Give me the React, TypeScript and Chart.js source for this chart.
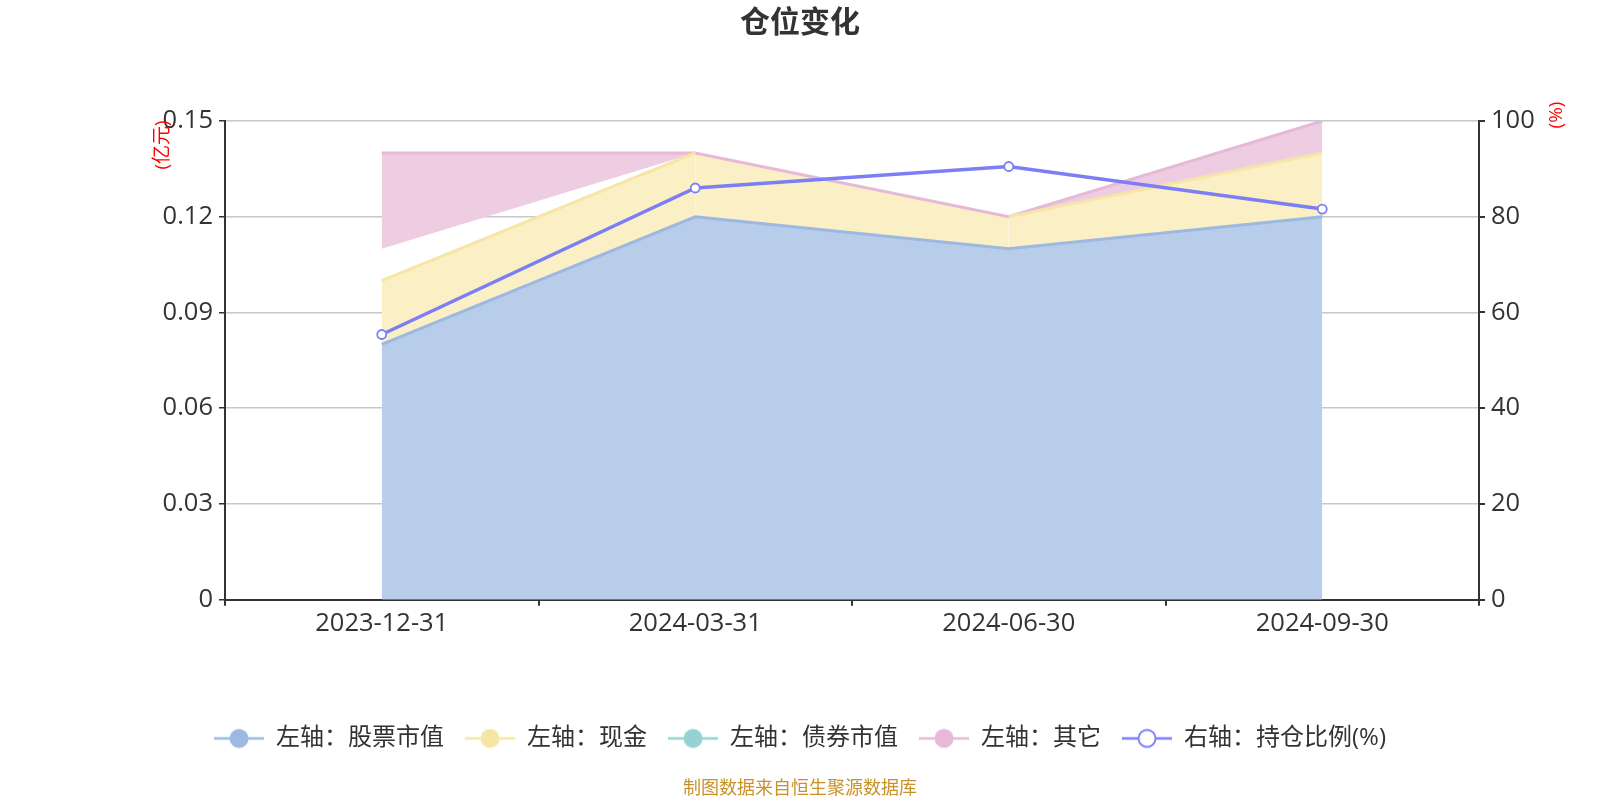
import React, { useEffect, useRef } from "react";
import { Chart, registerables } from "chart.js";

Chart.register(...registerables);

const categories = ["2023-12-31", "2024-03-31", "2024-06-30", "2024-09-30"];
const stockValues = [0.08, 0.12, 0.11, 0.12];
const cashValues = [0.02, 0.02, 0.01, 0.02];
const bondValues = [0.01, 0, 0, 0];
const otherValues = [0.03, 0, 0, 0.01];
const positionPct = [55.4, 86.0, 90.5, 81.6];
const leftTickLabels = ["0", "0.03", "0.06", "0.09", "0.12", "0.15"];
const seriesNames = ["左轴：股票市值", "左轴：现金", "左轴：债券市值", "左轴：其它", "右轴：持仓比例(%)"];
const titleText = "仓位变化";
const footerText = "制图数据来自恒生聚源数据库";
const leftUnit = "(亿元)";
const rightUnit = "(%)";

const FONT = '"Open Sans", "Noto Sans CJK SC", sans-serif';
const legendColors = ["#9db8e1", "#f6e6a6", "#95d3d3", "#e6b9d9", "#7b7ef5"];

function makeIcon(color: string, hollow: boolean): HTMLCanvasElement {
  const c = document.createElement("canvas");
  c.width = 50;
  c.height = 22;
  const ctx = c.getContext("2d")!;
  ctx.strokeStyle = color;
  ctx.lineWidth = 2.5;
  ctx.beginPath();
  ctx.moveTo(0, 11);
  ctx.lineTo(50, 11);
  ctx.stroke();
  ctx.beginPath();
  ctx.arc(25, 11, hollow ? 8.5 : 9.5, 0, Math.PI * 2);
  if (hollow) {
    ctx.fillStyle = "#fff";
    ctx.fill();
    ctx.lineWidth = 1.8;
    ctx.stroke();
  } else {
    ctx.fillStyle = color;
    ctx.fill();
  }
  return c;
}

const unitPlugin = {
  id: "unitLabels",
  afterDraw(chart: any) {
    const { ctx, chartArea } = chart;
    ctx.save();
    ctx.fillStyle = "#ff0000";
    ctx.font = `19px ${FONT}`;
    ctx.textAlign = "center";
    ctx.textBaseline = "middle";
    ctx.translate(chartArea.left - 62, chartArea.top + 24);
    ctx.rotate(-Math.PI / 2);
    ctx.fillText(leftUnit, 0, 0);
    ctx.restore();
    ctx.save();
    ctx.fillStyle = "#ff0000";
    ctx.font = `19px ${FONT}`;
    ctx.textAlign = "center";
    ctx.textBaseline = "middle";
    ctx.translate(chartArea.right + 78, chartArea.top - 6);
    ctx.rotate(-Math.PI / 2);
    ctx.fillText(rightUnit, 0, 0);
    ctx.restore();
  },
};

export default function App() {
  const ref = useRef<HTMLCanvasElement | null>(null);
  useEffect(() => {
    document.body.style.margin = "0";
    const icons = legendColors.map((c, i) => makeIcon(c, i === 4));
    const chart = new Chart(ref.current!, {
      type: "line",
      data: {
        labels: categories,
        datasets: [
          {
            label: seriesNames[0],
            data: stockValues,
            yAxisID: "y",
            borderColor: "#9db8e1",
            backgroundColor: "#b8cdea",
            borderWidth: 3,
            fill: "origin",
            pointRadius: 0,
            tension: 0,
          },
          {
            label: seriesNames[1],
            data: cashValues,
            yAxisID: "y",
            borderColor: "#f6e6a6",
            backgroundColor: "#faefc5",
            borderWidth: 3,
            fill: "-1",
            pointRadius: 0,
            tension: 0,
            segment: {
              borderColor: (c: any) =>
                otherValues[c.p0DataIndex] === 0 && otherValues[c.p1DataIndex] === 0 &&
                bondValues[c.p0DataIndex] === 0 && bondValues[c.p1DataIndex] === 0
                  ? "rgba(0,0,0,0)"
                  : undefined,
            },
          },
          {
            label: seriesNames[2],
            data: bondValues,
            yAxisID: "y",
            borderColor: "rgba(0,0,0,0)",
            backgroundColor: "rgba(0,0,0,0)",
            borderWidth: 0,
            fill: false,
            pointRadius: 0,
            tension: 0,
          },
          {
            label: seriesNames[3],
            data: otherValues,
            yAxisID: "y",
            borderColor: "#e6b9d9",
            backgroundColor: "#eecde3",
            borderWidth: 3,
            fill: "-1",
            pointRadius: 0,
            tension: 0,
          },
          {
            label: seriesNames[4],
            data: positionPct,
            yAxisID: "y1",
            stack: "pct",
            borderColor: "#7b7ef5",
            backgroundColor: "#ffffff",
            borderWidth: 3.5,
            fill: false,
            pointRadius: 4.5,
            pointBorderWidth: 1.8,
            pointBackgroundColor: "#ffffff",
            pointBorderColor: "#7b7ef5",
            tension: 0,
            order: -1,
          },
        ] as any,
      },
      options: {
        animation: false,
        responsive: false,
        maintainAspectRatio: false,
        layout: { padding: 0 },
        scales: {
          x: {
            offset: true,
            grid: {
              display: true,
              offset: true,
              drawOnChartArea: false,
              drawTicks: true,
              tickLength: 6,
              tickColor: "#333",
              lineWidth: 2,
            },
            border: { display: true, color: "#333", width: 2 },
            ticks: { color: "#333", font: { size: 25.5, family: FONT }, padding: 3, maxRotation: 0 },
            afterFit: (s: any) => {
              s.height = 105.7;
            },
          },
          y: {
            position: "left",
            stacked: true,
            min: 0,
            max: 0.15,
            ticks: {
              stepSize: 0.03,
              color: "#333",
              font: { size: 25.5, family: FONT },
              padding: 6,
              callback: (_v: any, i: number) => leftTickLabels[i],
            },
            grid: {
              color: "#c8c8c8",
              lineWidth: 1.5,
              tickColor: "#333",
              tickLength: 6,
              drawTicks: true,
            },
            border: { display: true, color: "#333", width: 2 },
            afterFit: (s: any) => {
              s.width = 225;
            },
          },
          y1: {
            position: "right",
            min: 0,
            max: 100,
            ticks: { stepSize: 20, color: "#333", font: { size: 25.5, family: FONT }, padding: 6 },
            grid: {
              drawOnChartArea: false,
              tickColor: "#333",
              tickLength: 6,
              lineWidth: 2,
            },
            border: { display: true, color: "#333", width: 2 },
            afterFit: (s: any) => {
              s.width = 121;
            },
          },
        },
        plugins: {
          filler: { drawTime: "beforeDatasetsDraw" },
          tooltip: { enabled: false },
          title: {
            display: true,
            text: titleText,
            color: "#333",
            font: { size: 30, weight: "bold", family: FONT },
            padding: { top: 5, bottom: 80 },
          },
          subtitle: {
            display: true,
            position: "bottom",
            text: footerText,
            color: "#c8922a",
            font: { size: 18, family: FONT },
            padding: { top: 18, bottom: 0 },
          },
          legend: {
            display: true,
            position: "bottom",
            labels: {
              usePointStyle: true,
              pointStyleWidth: 50,
              boxHeight: 22,
              padding: 21,
              color: "#333",
              font: { size: 24, family: FONT },
              sort: (a: any, b: any) => a.datasetIndex - b.datasetIndex,
              generateLabels: (ch: any) => {
                const items = Chart.defaults.plugins.legend.labels.generateLabels(ch);
                return items.map((it: any) => ({
                  ...it,
                  pointStyle: icons[it.datasetIndex],
                  rotation: 0,
                  fontColor: "#333",
                }));
              },
            },
          },
        },
      } as any,
      plugins: [unitPlugin],
    });
    return () => chart.destroy();
  }, []);
  return (
    <div style={{ width: 1600, height: 800 }}>
      <canvas ref={ref} width={1600} height={800} style={{ display: "block" }} />
    </div>
  );
}
